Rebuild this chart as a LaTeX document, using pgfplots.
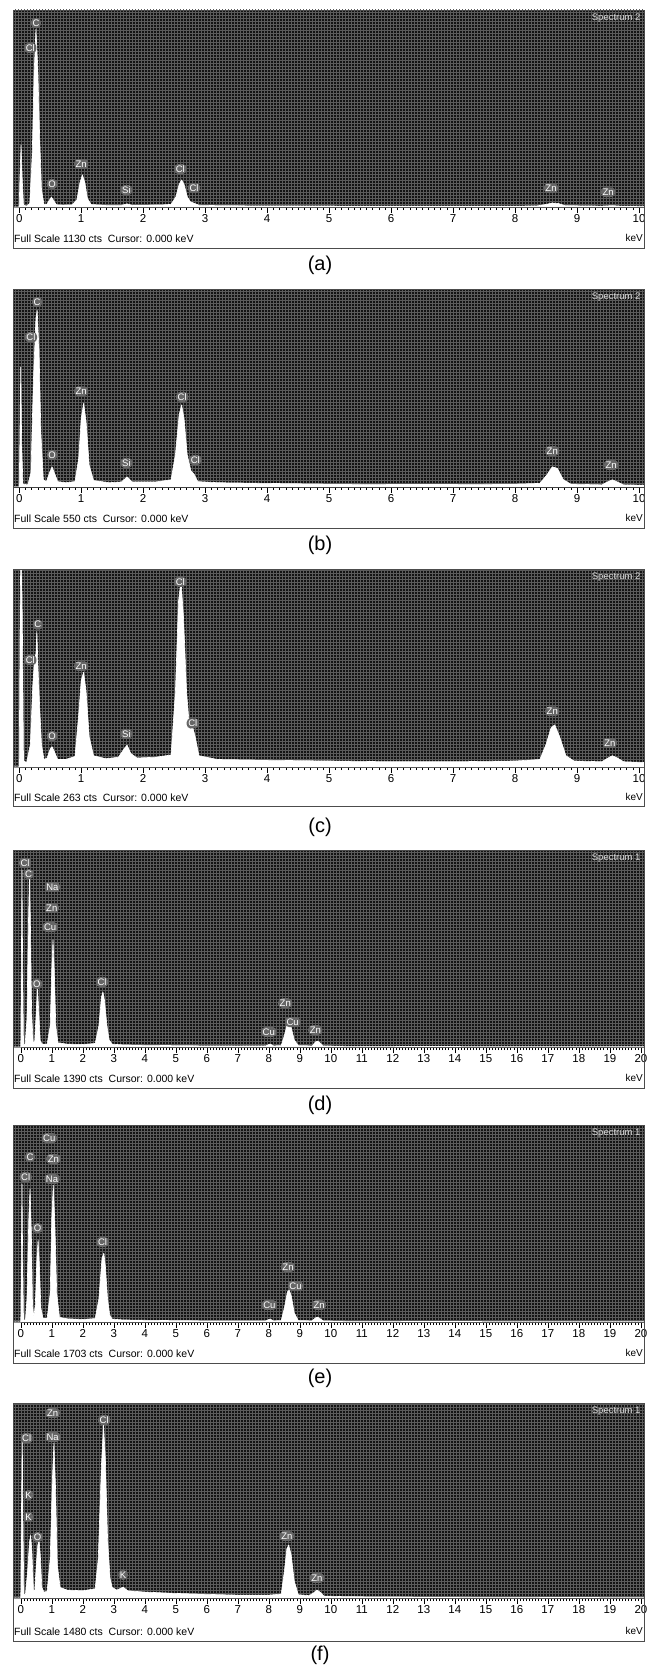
\documentclass[border=0pt]{standalone}
\usepackage{pgfplots}
\pgfplotsset{compat=1.18}
\usepackage{fontspec}
\setmainfont{Liberation Sans}
\usetikzlibrary{patterns}
\definecolor{bgdark}{gray}{0.08}
\definecolor{gridc}{gray}{0.36}
\definecolor{halo}{gray}{0.40}
\pgfplotsset{
  eds/.style={
    scale only axis, width=631pt, anchor=north west,
    ymin=0, clip mode=individual,
    axis x line=bottom, axis y line=none,
    axis line style={-, black!75, line width=0.6pt},
    tick align=outside,
    major tick length=6pt, minor tick length=3pt,
    minor x tick num=9,
    every tick/.style={black, line width=0.4pt},
    xticklabel style={font=\fontsize{11.5}{12}\selectfont, inner sep=1.5pt},
    /pgf/number format/assume math mode=true,
    axis background/.style={fill=bgdark, postaction={pattern=grid, pattern color=gridc}},
  },
  eds10/.style={eds, xmin=-0.1, xmax=10.08, xtick={0,...,10}},
  eds20/.style={eds, xmin=-0.25, xmax=20.1, xtick={0,...,20}},
  spec/.style={fill=white, draw=white, line width=0.6pt, line join=round},
}
\tikzset{
  lbl/.style={font=\fontsize{9.5}{10}\selectfont, text=white, fill=halo, rounded corners=4pt, inner sep=1.6pt},
  sp/.style={font=\fontsize{9.5}{10}\selectfont, text=white!85!black, anchor=north east},
}
\newcommand\el[3]{\node[lbl] at (axis cs:#1,#2) {#3};}
\newcommand\panelframe[2]{%
  \draw[black!70, line width=0.6pt] (13pt,-#1pt) rectangle (644pt,-#2pt);
}
\begin{document}
\begin{tikzpicture}
\useasboundingbox (0,0) rectangle (657pt,-1665pt);
% ---------------- (a)
\begin{axis}[eds10, at={(13pt,-10pt)}, height=197pt, ymax=1130]
\addplot[spec] coordinates {
(-0.1,0) (0.0,0) (0.01,150) (0.03,356) (0.05,150) (0.07,10) (0.12,6) (0.17,20) (0.21,300) (0.24,760) (0.27,1020) (0.30,800) (0.33,400) (0.36,100) (0.40,16) (0.44,13) (0.48,35) (0.52,57) (0.56,35) (0.60,13) (0.7,11) (0.85,12) (0.93,40) (0.98,140) (1.02,184) (1.06,140) (1.10,50) (1.16,14) (1.4,10) (1.65,10) (1.74,18) (1.82,10) (2.3,12) (2.45,15) (2.53,60) (2.58,130) (2.62,155) (2.66,130) (2.71,60) (2.76,30) (2.82,22) (2.9,10) (3.2,8) (4,6) (6,5) (8,5) (8.35,6) (8.5,15) (8.6,23) (8.7,20) (8.8,8) (9.4,5) (9.57,8) (9.7,5) (10.08,4) (10.08,0)};
\el{0.27}{1055}{C}\el{0.18}{912}{Cl}\el{0.53}{132}{O}\el{1.0}{247}{Zn}\el{1.73}{97}{Si}
\el{2.6}{218}{Cl}\el{2.82}{109}{Cl}\el{8.58}{108}{Zn}\el{9.5}{85}{Zn}
\node[sp] at (axis description cs:1,1) {Spectrum 2};
\end{axis}
\panelframe{10}{248}
\node[anchor=west, font=\fontsize{10.5}{11}\selectfont, inner sep=0pt] at (14pt,-239pt) {Full Scale 1130 cts\ \ Cursor: 0.000 keV};
\node[anchor=east, font=\fontsize{10}{11}\selectfont, inner sep=0pt] at (643pt,-238pt) {keV};
\node[font=\fontsize{20}{22}\selectfont] at (320pt,-265pt) {(a)};
% ---------------- (b)
\begin{axis}[eds10, at={(13pt,-289pt)}, height=198pt, ymax=550]
\addplot[spec] coordinates {
(-0.1,0) (0.0,0) (0.01,120) (0.025,333) (0.04,120) (0.06,8) (0.14,6) (0.19,40) (0.23,300) (0.27,470) (0.29,491) (0.32,380) (0.35,150) (0.39,20) (0.44,15) (0.49,40) (0.53,56) (0.57,38) (0.62,15) (0.75,12) (0.9,15) (0.96,80) (1.0,190) (1.04,233) (1.08,180) (1.13,60) (1.2,18) (1.45,12) (1.65,14) (1.74,28) (1.82,14) (2.2,14) (2.45,20) (2.52,90) (2.58,200) (2.62,228) (2.66,190) (2.71,90) (2.77,45) (2.82,36) (2.88,15) (3.2,12) (4,10) (5,8) (6,7) (7,7) (8,8) (8.4,10) (8.52,35) (8.6,56) (8.68,52) (8.78,20) (8.9,8) (9.4,6) (9.5,15) (9.57,20) (9.65,14) (9.75,6) (10.08,5) (10.08,0)};
\el{0.29}{514}{C}\el{0.19}{416}{Cl}\el{0.53}{89}{O}\el{1.0}{266}{Zn}\el{1.73}{67}{Si}
\el{2.63}{250}{Cl}\el{2.84}{75}{Cl}\el{8.6}{100}{Zn}\el{9.55}{61}{Zn}
\node[sp] at (axis description cs:1,1) {Spectrum 2};
\end{axis}
\panelframe{289}{528}
\node[anchor=west, font=\fontsize{10.5}{11}\selectfont, inner sep=0pt] at (14pt,-519pt) {Full Scale 550 cts\ \ Cursor: 0.000 keV};
\node[anchor=east, font=\fontsize{10}{11}\selectfont, inner sep=0pt] at (643pt,-518pt) {keV};
\node[font=\fontsize{20}{22}\selectfont] at (320pt,-545pt) {(b)};
% ---------------- (c)
\begin{axis}[eds10, at={(13pt,-569pt)}, height=198pt, ymax=263]
\addplot[spec] coordinates {
(-0.1,0) (0.0,0) (0.015,200) (0.03,320) (0.05,200) (0.07,8) (0.12,6) (0.18,30) (0.22,110) (0.25,145) (0.27,150) (0.285,180) (0.30,140) (0.33,80) (0.36,30) (0.4,10) (0.45,12) (0.5,24) (0.53,27) (0.57,20) (0.62,10) (0.75,10) (0.9,14) (0.96,70) (1.0,115) (1.04,126) (1.08,100) (1.13,40) (1.2,15) (1.4,11) (1.6,13) (1.7,25) (1.74,29) (1.8,18) (1.9,12) (2.2,13) (2.45,16) (2.52,100) (2.57,220) (2.61,248) (2.65,200) (2.7,100) (2.75,50) (2.8,53) (2.84,40) (2.9,15) (3.2,10) (4,9) (5,8) (6,7) (7,7) (8,8) (8.4,10) (8.5,30) (8.58,52) (8.64,56) (8.72,40) (8.82,15) (8.95,8) (9.4,7) (9.5,12) (9.57,15) (9.65,12) (9.75,7) (10.08,6) (10.08,0)};
\el{2.6}{246}{Cl}\el{0.3}{189}{C}\el{0.18}{142}{Cl}\el{1.0}{134}{Zn}\el{0.53}{41}{O}
\el{1.73}{44}{Si}\el{2.8}{58}{Cl}\el{8.6}{74}{Zn}\el{9.53}{32}{Zn}
\node[sp] at (axis description cs:1,1) {Spectrum 2};
\end{axis}
\panelframe{569}{806}
\node[anchor=west, font=\fontsize{10.5}{11}\selectfont, inner sep=0pt] at (14pt,-798pt) {Full Scale 263 cts\ \ Cursor: 0.000 keV};
\node[anchor=east, font=\fontsize{10}{11}\selectfont, inner sep=0pt] at (643pt,-797pt) {keV};
\node[font=\fontsize{20}{22}\selectfont] at (320pt,-827pt) {(c)};
% ---------------- (d)
\begin{axis}[eds20, at={(13pt,-850pt)}, height=197pt, ymax=1390]
\addplot[spec] coordinates {
(-0.25,0) (0.0,0) (0.02,600) (0.04,1250) (0.06,600) (0.09,20) (0.14,15) (0.2,200) (0.25,900) (0.28,1190) (0.31,900) (0.35,250) (0.4,30) (0.45,40) (0.5,250) (0.54,423) (0.58,250) (0.63,40) (0.7,20) (0.85,20) (0.95,150) (1.0,550) (1.04,755) (1.08,550) (1.13,150) (1.2,30) (1.5,20) (2.0,18) (2.4,25) (2.52,150) (2.6,350) (2.65,388) (2.7,330) (2.78,150) (2.85,50) (2.95,20) (3.3,15) (4,12) (5,10) (6,8) (7,7) (7.9,8) (8.04,21) (8.15,8) (8.4,10) (8.5,80) (8.6,165) (8.65,170) (8.72,140) (8.82,50) (8.95,10) (9.4,8) (9.5,35) (9.57,42) (9.65,30) (9.75,8) (10.5,5) (12,4) (15,3) (20.1,2) (20.1,0)};
\el{0.14}{1298}{Cl}\el{0.25}{1220}{C}\el{1.02}{1129}{Na}\el{1.0}{980}{Zn}\el{0.95}{846}{Cu}
\el{0.52}{444}{O}\el{2.62}{459}{Cl}\el{8.53}{310}{Zn}\el{8.77}{176}{Cu}\el{8.0}{106}{Cu}\el{9.5}{120}{Zn}
\node[sp] at (axis description cs:1,1) {Spectrum 1};
\end{axis}
\panelframe{850}{1088}
\node[anchor=west, font=\fontsize{10.5}{11}\selectfont, inner sep=0pt] at (14pt,-1079pt) {Full Scale 1390 cts\ \ Cursor: 0.000 keV};
\node[anchor=east, font=\fontsize{10}{11}\selectfont, inner sep=0pt] at (643pt,-1078pt) {keV};
\node[font=\fontsize{20}{22}\selectfont] at (320pt,-1105pt) {(d)};
% ---------------- (e)
\begin{axis}[eds20, at={(13pt,-1125pt)}, height=197pt, ymax=1703]
\addplot[spec] coordinates {
(-0.25,0) (0.0,0) (0.02,600) (0.04,1193) (0.06,600) (0.09,20) (0.15,15) (0.2,200) (0.26,900) (0.3,1150) (0.34,800) (0.38,150) (0.42,40) (0.47,150) (0.52,550) (0.56,708) (0.6,500) (0.65,120) (0.72,30) (0.85,30) (0.95,250) (1.0,900) (1.05,1184) (1.1,850) (1.16,250) (1.25,40) (1.5,28) (2.0,22) (2.4,30) (2.52,200) (2.62,550) (2.68,596) (2.73,480) (2.8,200) (2.87,60) (2.95,25) (3.3,18) (4,15) (5,12) (6,10) (7,9) (7.9,10) (8.04,26) (8.15,10) (8.4,12) (8.5,120) (8.6,260) (8.66,276) (8.73,220) (8.82,80) (8.95,12) (9.4,10) (9.5,35) (9.57,43) (9.65,30) (9.75,10) (10.5,6) (12,5) (15,4) (20.1,3) (20.1,0)};
\el{0.92}{1590}{Cu}\el{1.05}{1410}{Zn}\el{1.01}{1236}{Na}\el{0.3}{1426}{C}\el{0.16}{1253}{Cl}
\el{0.54}{812}{O}\el{2.64}{691}{Cl}\el{8.62}{475}{Zn}\el{8.86}{311}{Cu}\el{8.02}{147}{Cu}\el{9.62}{147}{Zn}
\node[sp] at (axis description cs:1,1) {Spectrum 1};
\end{axis}
\panelframe{1125}{1363}
\node[anchor=west, font=\fontsize{10.5}{11}\selectfont, inner sep=0pt] at (14pt,-1354pt) {Full Scale 1703 cts\ \ Cursor: 0.000 keV};
\node[anchor=east, font=\fontsize{10}{11}\selectfont, inner sep=0pt] at (643pt,-1353pt) {keV};
\node[font=\fontsize{20}{22}\selectfont] at (320pt,-1378pt) {(e)};
% ---------------- (f)
\begin{axis}[eds20, at={(13pt,-1403pt)}, height=195pt, ymax=1480]
\addplot[spec] coordinates {
(-0.25,0) (0.0,0) (0.02,600) (0.05,1237) (0.07,600) (0.1,30) (0.15,25) (0.22,200) (0.28,420) (0.32,478) (0.36,350) (0.41,60) (0.45,50) (0.5,250) (0.55,400) (0.59,440) (0.63,330) (0.68,80) (0.75,45) (0.85,50) (0.95,300) (1.02,900) (1.07,1177) (1.12,850) (1.18,250) (1.27,80) (1.5,60) (2.0,55) (2.4,70) (2.5,300) (2.6,1000) (2.67,1313) (2.73,1050) (2.8,450) (2.88,150) (2.95,80) (3.1,60) (3.3,83) (3.45,55) (4,45) (5,35) (6,28) (7,22) (8,22) (8.4,30) (8.5,200) (8.58,370) (8.64,402) (8.72,330) (8.82,130) (8.95,25) (9.3,18) (9.45,40) (9.55,61) (9.65,45) (9.78,15) (10.5,10) (12,8) (15,5) (20.1,3) (20.1,0)};
\el{1.03}{1404}{Zn}\el{1.03}{1222}{Na}\el{2.69}{1351}{Cl}\el{0.19}{1214}{Cl}\el{0.25}{782}{K}
\el{0.25}{614}{K}\el{0.54}{463}{O}\el{3.3}{175}{K}\el{8.58}{470}{Zn}\el{9.55}{152}{Zn}
\node[sp] at (axis description cs:1,1) {Spectrum 1};
\end{axis}
\panelframe{1403}{1641}
\node[anchor=west, font=\fontsize{10.5}{11}\selectfont, inner sep=0pt] at (14pt,-1632pt) {Full Scale 1480 cts\ \ Cursor: 0.000 keV};
\node[anchor=east, font=\fontsize{10}{11}\selectfont, inner sep=0pt] at (643pt,-1631pt) {keV};
\node[font=\fontsize{20}{22}\selectfont] at (320pt,-1655pt) {(f)};
\end{tikzpicture}
\end{document}
